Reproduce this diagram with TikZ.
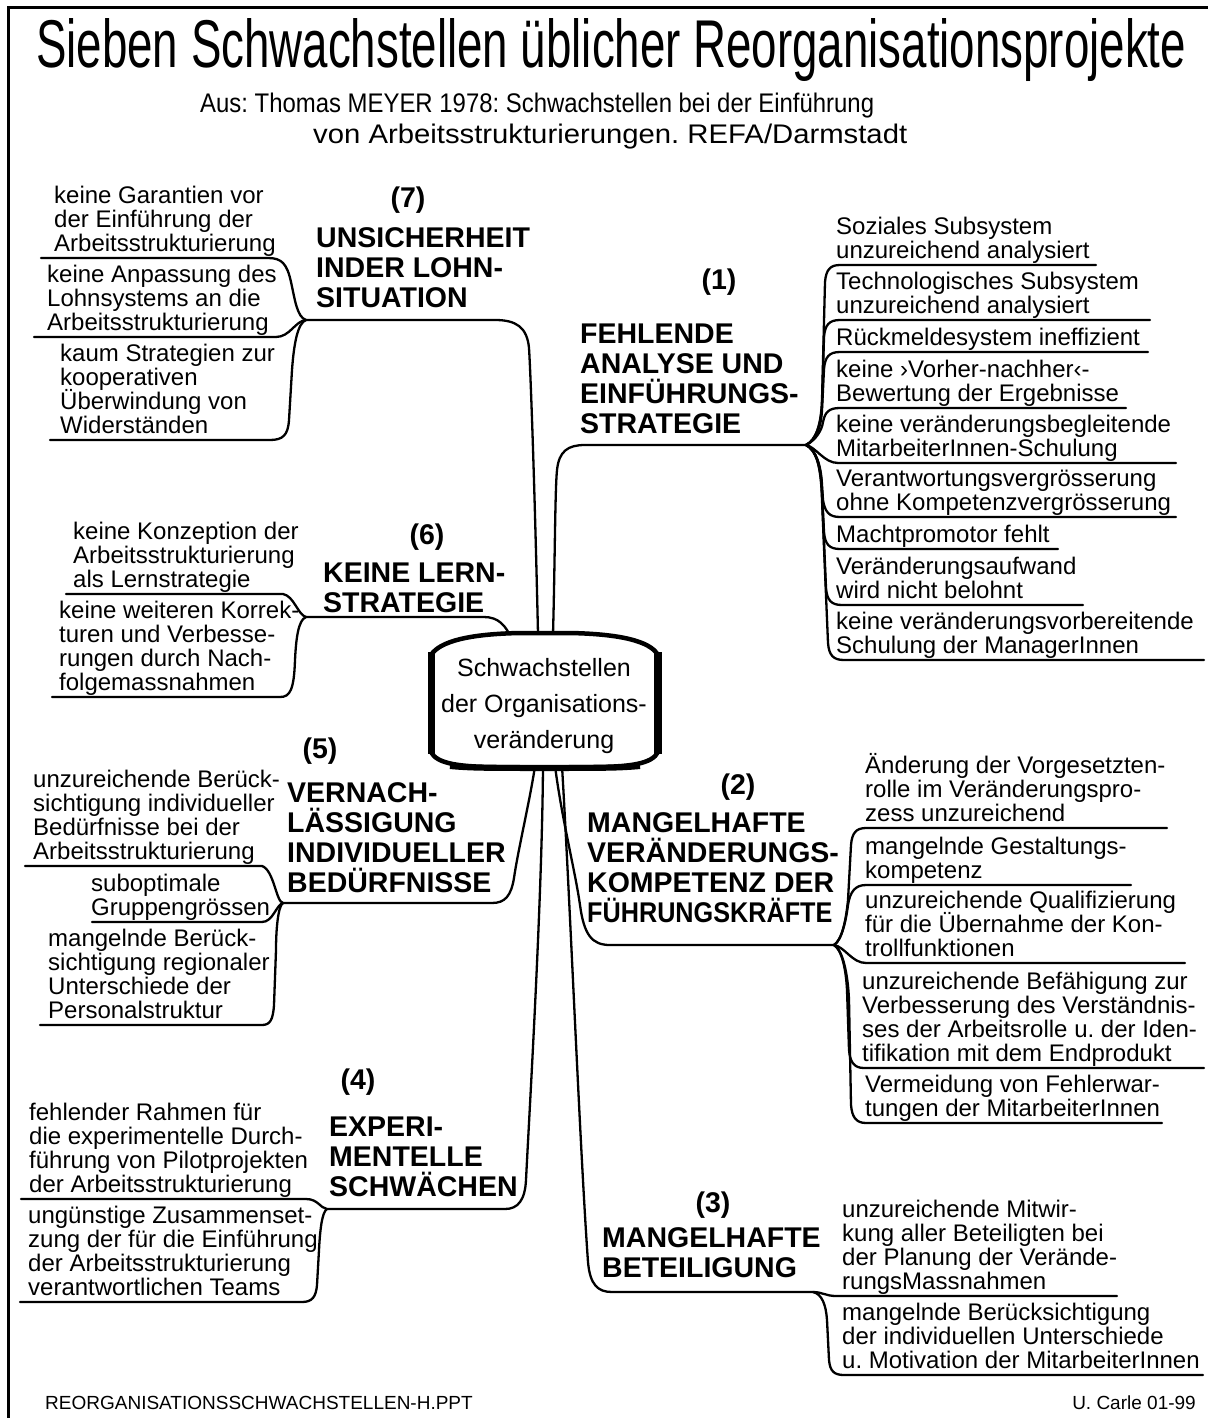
\documentclass[tikz,border=0pt]{standalone}
\usepackage{fontspec}
\setmainfont{Liberation Sans}
\usepackage{graphicx}
\frenchspacing
\newcommand{\Ls}[1]{\vbox{\lineskiplimit=-100pt\lineskip=0pt\let\\\cr\halign{##\hfil\cr#1\crcr}}}
\newcommand{\Lc}[1]{\vbox{\lineskiplimit=-100pt\lineskip=0pt\let\\\cr\halign{\hfil##\hfil\cr#1\crcr}}}
\tikzset{
 conn/.style={line width=2.3pt, line cap=round, line join=round},
 itemtext/.style={anchor=base west, inner sep=0pt, font=\fontsize{24}{24}\selectfont},
 headtext/.style={anchor=base west, inner sep=0pt, font=\bfseries\fontsize{28.5}{30}\selectfont},
 numtext/.style={anchor=center, inner sep=0pt, font=\bfseries\fontsize{28.5}{30}\selectfont},
 foot/.style={inner sep=0pt, font=\fontsize{19}{19}\selectfont},
}
\begin{document}
\begin{tikzpicture}[x=1pt,y=-1pt]
\useasboundingbox (0,0) rectangle (1208,1418);
\fill[white] (0,0) rectangle (1208,1418);
\draw[line width=3pt] (8,1418) -- (8,8) -- (1208,8);

% header
\node[anchor=base west, inner sep=0] (title) at (36,68) {\resizebox{1150pt}{49pt}{\fontsize{40}{40}\selectfont Sieben Schwachstellen üblicher Reorganisationsprojekte}};
\node[anchor=base west, inner sep=0] (sub1) at (200,113) {\resizebox{674pt}{19.5pt}{\fontsize{26.5}{26.5}\selectfont Aus: Thomas MEYER 1978: Schwachstellen bei der Einführung}};
\node[anchor=base west, inner sep=0] (sub2) at (313,143) {\resizebox{594pt}{19.5pt}{\fontsize{26.5}{26.5}\selectfont von Arbeitsstrukturierungen. REFA/Darmstadt}};

% footer
\node[foot, anchor=base west] (f1) at (45,1409) {REORGANISATIONSSCHWACHSTELLEN-H.PPT};
\node[foot, anchor=base east] (f2) at (1196,1409) {U. Carle 01-99};

% coordinates
\coordinate (b7) at (538,634);
\coordinate (b1) at (553,634);
\coordinate (b6) at (512,640);
\coordinate (b5) at (535,766);
\coordinate (b4) at (543,766);
\coordinate (b2) at (555,766);
\coordinate (b3) at (562,766);
\coordinate (j7) at (306,320);
\coordinate (j1) at (806,445);
\coordinate (j6) at (306,617);
\coordinate (j5) at (283,903);
\coordinate (j4) at (327,1209);
\coordinate (j2) at (834,945);
\coordinate (j3) at (813,1292);

% ---------- branch 7
\node[numtext] (n7) at (408,200) {(7)};
\node[headtext] (h7) at (316,307) {\Ls{UNSICHERHEIT\\INDER LOHN-\\SITUATION}};
\draw[conn] (b7) .. controls (535,500) and (531,380) .. (529,348) .. controls (527,327) and (516,320) .. (495,320) -- (j7);
\coordinate (u7a) at (41,258);
\coordinate (u7b) at (34,337);
\coordinate (u7c) at (50,440);
\draw[conn] (j7) .. controls (297,317) and (295,300) .. (291,282) .. controls (287,264) and (282,258) .. (268,258) -- (u7a);
\draw[conn] (j7) .. controls (295,321) and (290,337) .. (276,337) -- (u7b);
\draw[conn] (j7) .. controls (298,323) and (294,342) .. (292,370) -- (289,420) .. controls (288,435) and (283,440) .. (270,440) -- (u7c);
\node[itemtext] (t7a) at (54,251) {\Ls{keine Garantien vor\\der Einführung der\\Arbeitsstrukturierung}};
\node[itemtext] (t7b) at (47,330) {\Ls{keine Anpassung des\\Lohnsystems an die\\Arbeitsstrukturierung}};
\node[itemtext] (t7c) at (60,433) {\Ls{kaum Strategien zur\\kooperativen\\Überwindung von\\Widerständen}};

% ---------- branch 1
\node[numtext] (n1) at (719,282) {(1)};
\node[headtext] (h1) at (580,433) {\Ls{FEHLENDE\\ANALYSE UND\\EINFÜHRUNGS-\\STRATEGIE}};
\draw[conn] (b1) .. controls (555,560) and (555,490) .. (557,470) .. controls (559,451) and (568,445) .. (585,445) -- (j1);
\coordinate (u1a) at (1096,265);
\coordinate (u1b) at (1150,320);
\coordinate (u1c) at (1148,352);
\coordinate (u1d) at (1126,408);
\coordinate (u1e) at (1176,463);
\coordinate (u1f) at (1176,517);
\coordinate (u1g) at (1058,549);
\coordinate (u1h) at (1083,605);
\coordinate (u1i) at (1204,660);
\draw[conn] (j1) .. controls (816,440) and (821,425) .. (822,400) -- (825,282) .. controls (826,270) and (830,265) .. (840,265) -- (u1a);
\draw[conn] (j1) .. controls (816,440) and (821,425) .. (822,405) -- (824,337) .. controls (825,325) and (829,320) .. (840,320) -- (u1b);
\draw[conn] (j1) .. controls (816,440) and (821,428) .. (822,410) -- (824,369) .. controls (825,357) and (829,352) .. (840,352) -- (u1c);
\draw[conn] (j1) .. controls (816,440) and (822,430) .. (823,422) .. controls (825,412) and (829,408) .. (840,408) -- (u1d);
\draw[conn] (j1) .. controls (816,447) and (824,463) .. (838,463) -- (u1e);
\draw[conn] (j1) .. controls (816,450) and (821,465) .. (822,485) -- (823,500) .. controls (825,512) and (829,517) .. (840,517) -- (u1f);
\draw[conn] (j1) .. controls (816,450) and (821,465) .. (822,490) -- (824,532) .. controls (825,544) and (829,549) .. (840,549) -- (u1g);
\draw[conn] (j1) .. controls (816,450) and (821,465) .. (822,495) -- (826,588) .. controls (827,600) and (831,605) .. (842,605) -- (u1h);
\draw[conn] (j1) .. controls (816,450) and (821,465) .. (822,500) -- (828,643) .. controls (829,655) and (833,660) .. (844,660) -- (u1i);
\node[itemtext] (t1a) at (836,258) {\Ls{Soziales Subsystem\\unzureichend analysiert}};
\node[itemtext] (t1b) at (836,313) {\Ls{Technologisches Subsystem\\unzureichend analysiert}};
\node[itemtext] (t1c) at (836,345) {Rückmeldesystem ineffizient};
\node[itemtext] (t1d) at (836,401) {\Ls{keine ›Vorher-nachher‹-\\Bewertung der Ergebnisse}};
\node[itemtext] (t1e) at (836,456) {\Ls{keine veränderungsbegleitende\\MitarbeiterInnen-Schulung}};
\node[itemtext] (t1f) at (836,510) {\Ls{Verantwortungsvergrösserung\\ohne Kompetenzvergrösserung}};
\node[itemtext] (t1g) at (836,542) {Machtpromotor fehlt};
\node[itemtext] (t1h) at (836,598) {\Ls{Veränderungsaufwand\\wird nicht belohnt}};
\node[itemtext] (t1i) at (836,653) {\Ls{keine veränderungsvorbereitende\\Schulung der ManagerInnen}};

% ---------- branch 6
\node[numtext] (n6) at (427,537) {(6)};
\node[headtext] (h6) at (323,612) {\Ls{KEINE LERN-\\STRATEGIE}};
\draw[conn] (b6) .. controls (506,625) and (498,617) .. (484,617) -- (j6);
\coordinate (u6a) at (66,594);
\coordinate (u6b) at (52,697);
\draw[conn] (j6) .. controls (298,615) and (294,596) .. (283,594) -- (u6a);
\draw[conn] (j6) .. controls (298,620) and (296,640) .. (295,660) .. controls (294,690) and (290,697) .. (280,697) -- (u6b);
\node[itemtext] (t6a) at (73,587) {\Ls{keine Konzeption der\\Arbeitsstrukturierung\\als Lernstrategie}};
\node[itemtext] (t6b) at (59,690) {\Ls{keine weiteren Korrek-\\turen und Verbesse-\\rungen durch Nach-\\folgemassnahmen}};

% ---------- branch 5
\node[numtext] (n5) at (320,751) {(5)};
\node[headtext] (h5) at (287,892) {\Ls{VERNACH-\\LÄSSIGUNG\\INDIVIDUELLER\\BEDÜRFNISSE}};
\draw[conn] (b5) .. controls (530,800) and (518,850) .. (514,878) .. controls (511,896) and (505,903) .. (492,903) -- (j5);
\coordinate (u5a) at (25,866);
\coordinate (u5b) at (92,922);
\coordinate (u5c) at (40,1025);
\draw[conn] (j5) .. controls (276,902) and (274,870) .. (262,866) -- (u5a);
\draw[conn] (j5) .. controls (276,905) and (273,922) .. (262,922) -- (u5b);
\draw[conn] (j5) .. controls (278,906) and (276,930) .. (276,950) -- (274,1005) .. controls (273,1020) and (270,1025) .. (262,1025) -- (u5c);
\node[itemtext] (t5a) at (33,859) {\Ls{unzureichende Berück-\\sichtigung individueller\\Bedürfnisse bei der\\Arbeitsstrukturierung}};
\node[itemtext] (t5b) at (91,915) {\Ls{suboptimale\\Gruppengrössen}};
\node[itemtext] (t5c) at (48,1018) {\Ls{mangelnde Berück-\\sichtigung regionaler\\Unterschiede der\\Personalstruktur}};

% ---------- branch 4
\node[numtext] (n4) at (358,1082) {(4)};
\node[headtext] (h4) at (329,1196) {\Ls{EXPERI-\\MENTELLE\\SCHWÄCHEN}};
\draw[conn] (b4) .. controls (542,900) and (530,1100) .. (526,1180) .. controls (525,1200) and (518,1209) .. (505,1209) -- (j4);
\coordinate (u4a) at (21,1199);
\coordinate (u4b) at (20,1302);
\draw[conn] (j4) .. controls (320,1208) and (318,1199) .. (306,1199) -- (u4a);
\draw[conn] (j4) .. controls (322,1212) and (320,1230) .. (319,1250) -- (317,1285) .. controls (316,1297) and (312,1302) .. (302,1302) -- (u4b);
\node[itemtext] (t4a) at (29,1192) {\Ls{fehlender Rahmen für\\die experimentelle Durch-\\führung von Pilotprojekten\\der Arbeitsstrukturierung}};
\node[itemtext] (t4b) at (28,1295) {\Ls{ungünstige Zusammenset-\\zung der für die Einführung\\der Arbeitsstrukturierung\\verantwortlichen Teams}};

% ---------- branch 2
\node[numtext] (n2) at (738,787) {(2)};
\node[headtext] (h2) at (587,922) {\Ls{MANGELHAFTE\\VERÄNDERUNGS-\\KOMPETENZ DER\\\scalebox{0.885}[1]{FÜHRUNGSKRÄFTE}}};
\draw[conn] (b2) .. controls (562,820) and (575,870) .. (580,905) .. controls (584,935) and (592,945) .. (610,945) -- (j2);
\coordinate (u2a) at (1167,828);
\coordinate (u2b) at (1131,885);
\coordinate (u2c) at (1185,963);
\coordinate (u2d) at (1204,1068);
\coordinate (u2e) at (1162,1123);
\draw[conn] (j2) .. controls (842,940) and (846,920) .. (848,900) -- (851,845) .. controls (852,833) and (856,828) .. (866,828) -- (u2a);
\draw[conn] (j2) .. controls (842,940) and (846,920) .. (848,905) .. controls (850,892) and (855,885) .. (866,885) -- (u2b);
\draw[conn] (j2) .. controls (845,947) and (852,963) .. (866,963) -- (u2c);
\draw[conn] (j2) .. controls (842,950) and (846,970) .. (847,990) -- (849,1050) .. controls (850,1062) and (854,1068) .. (864,1068) -- (u2d);
\draw[conn] (j2) .. controls (843,950) and (848,975) .. (849,1000) -- (851,1105) .. controls (852,1117) and (856,1123) .. (866,1123) -- (u2e);
\node[itemtext] (t2a) at (865,821) {\Ls{Änderung der Vorgesetzten-\\rolle im Veränderungspro-\\zess unzureichend}};
\node[itemtext] (t2b) at (865,878) {\Ls{mangelnde Gestaltungs-\\kompetenz}};
\node[itemtext] (t2c) at (865,956) {\Ls{unzureichende Qualifizierung\\für die Übernahme der Kon-\\trollfunktionen}};
\node[itemtext] (t2d) at (862,1061) {\Ls{unzureichende Befähigung zur\\Verbesserung des Verständnis-\\ses der Arbeitsrolle u. der Iden-\\tifikation mit dem Endprodukt}};
\node[itemtext] (t2e) at (865,1116) {\Ls{Vermeidung von Fehlerwar-\\tungen der MitarbeiterInnen}};

% ---------- branch 3
\node[numtext] (n3) at (713,1205) {(3)};
\node[headtext] (h3) at (602,1277) {\Ls{MANGELHAFTE\\BETEILIGUNG}};
\draw[conn] (b3) .. controls (570,900) and (580,1150) .. (588,1262) .. controls (590,1285) and (598,1292) .. (612,1292) -- (j3);
\coordinate (u3a) at (1117,1296);
\coordinate (u3b) at (1203,1375);
\draw[conn] (j3) .. controls (822,1292) and (826,1296) .. (836,1296) -- (u3a);
\draw[conn] (j3) .. controls (822,1294) and (826,1305) .. (827,1320) -- (829,1360) .. controls (830,1371) and (834,1375) .. (844,1375) -- (u3b);
\node[itemtext] (t3a) at (842,1289) {\Ls{unzureichende Mitwir-\\kung aller Beteiligten bei\\der Planung der Verände-\\rungsMassnahmen}};
\node[itemtext] (t3b) at (842,1368) {\Ls{mangelnde Berücksichtigung\\der individuellen Unterschiede\\u. Motivation der MitarbeiterInnen}};

% ---------- central box
\filldraw[fill=white, line width=4.5pt, line join=round]
  (431,655) .. controls (440,641) and (470,634) .. (520,633) -- (570,633)
  .. controls (620,634) and (650,641) .. (658,655) -- (658,752)
  .. controls (652,764) and (630,767) .. (590,767) -- (500,767)
  .. controls (460,767) and (437,764) .. (431,752) -- cycle;
\draw[line width=7pt] (431.5,652) -- (431.5,754);
\draw[line width=8pt] (657.5,652) -- (657.5,754);
\draw[line width=6pt] (450,766) .. controls (470,768) and (490,768) .. (544,768) .. controls (600,768) and (620,768) .. (640,766);
\node[anchor=base, inner sep=0pt, font=\fontsize{25}{36}\selectfont] (C) at (544,748) {\Lc{Schwachstellen\\der Organisations-\\veränderung}};
\end{tikzpicture}
\end{document}
